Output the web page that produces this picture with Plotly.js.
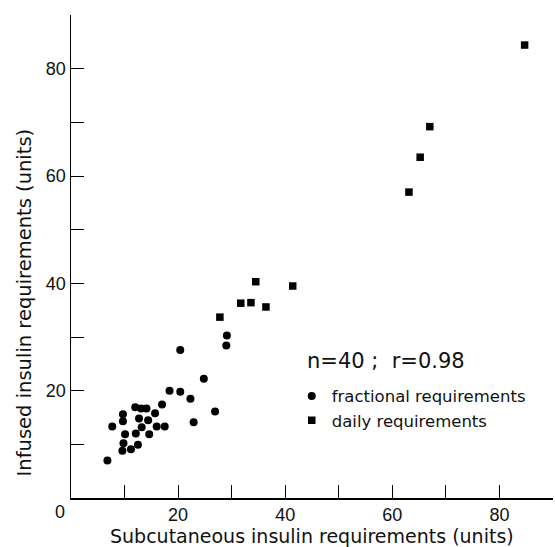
<!DOCTYPE html>
<html>
<head>
<meta charset="utf-8">
<script src="https://cdn.plot.ly/plotly-3.0.1.min.js"></script>
<style>html,body{margin:0;padding:0;background:#fff;}#chart{width:555px;height:547px;}</style>
</head>
<body>
<div id="chart"></div>
<script>
// Fractional requirements (circles)
var fracX = [6.8, 7.7, 9.7, 9.7, 10.1, 9.8, 9.6, 11.2, 12.5, 12.1, 13.2, 12.7, 12.0, 13.1, 14.1, 14.4, 14.6, 15.7, 16.0, 17.5, 17.0, 18.4, 20.4, 20.4, 22.3, 22.9, 24.8, 26.9, 29.1, 29.0];
var fracY = [7.0, 13.3, 15.6, 14.3, 11.9, 10.2, 8.8, 9.1, 9.9, 12.0, 13.2, 14.8, 16.9, 16.7, 16.7, 14.5, 11.9, 15.8, 13.3, 13.3, 17.4, 20.0, 19.8, 27.6, 18.5, 14.1, 22.2, 16.1, 30.3, 28.4];
// Daily requirements (squares)
var dailyX = [27.8, 31.7, 33.6, 34.5, 36.4, 41.4, 63.1, 65.2, 67.0, 84.7];
var dailyY = [33.7, 36.3, 36.4, 40.3, 35.6, 39.5, 57.0, 63.5, 69.2, 84.4];
// Axis ticks
var tickVals = [10, 20, 30, 40, 50, 60, 70, 80, 90];
var tickText = ['', '20', '', '40', '', '60', '', '80', ''];
var statsText = 'n=40 ;  r=0.98';
var fracName = 'fractional requirements';
var dailyName = 'daily requirements';
var xTitle = 'Subcutaneous insulin requirements (units)';
var yTitle = 'Infused insulin requirements (units)';

var FONT = 'Liberation Sans, DejaVu Sans, sans-serif';
var FONT2 = 'DejaVu Sans, sans-serif';

var traces = [
  {x: fracX, y: fracY, mode: 'markers', type: 'scatter', name: fracName, legendgroup: 'a',
   marker: {symbol: 'circle', size: 8, color: '#000'}},
  {x: dailyX, y: dailyY, mode: 'markers', type: 'scatter', name: dailyName, legendgroup: 'b',
   marker: {symbol: 'square', size: 7.5, color: '#000'}}
];

var axisCommon = {
  range: [0, 90], showgrid: false, zeroline: false, showline: true,
  linecolor: '#000', linewidth: 1.5, ticks: 'inside', ticklen: 13, tickwidth: 1,
  tickcolor: '#000', tickmode: 'array', tickvals: tickVals, ticktext: tickText,
  tickfont: {family: FONT, size: 18, color: '#111'}
};

var layout = {
  width: 555, height: 547,
  margin: {l: 71, r: 2, t: 15, b: 49},
  paper_bgcolor: '#fff', plot_bgcolor: '#fff',
  showlegend: true,
  legend: {x: 0.458, y: 0.247, xanchor: 'left', yanchor: 'top', bgcolor: 'rgba(0,0,0,0)',
    font: {family: FONT2, size: 16.5, color: '#111'}, tracegroupgap: 0, traceorder: 'grouped'},
  xaxis: Object.assign({}, axisCommon),
  yaxis: Object.assign({}, axisCommon),
  annotations: [
    {text: statsText, xref: 'x', yref: 'y', x: 43.6, y: 25.5, showarrow: false,
     xanchor: 'left', font: {family: FONT2, size: 21, color: '#111'}},
    {text: '0', xref: 'paper', yref: 'paper', x: -0.023, y: -0.028, showarrow: false,
     xanchor: 'center', yanchor: 'middle', font: {family: FONT, size: 18, color: '#111'}},
    {text: xTitle, xref: 'paper', yref: 'paper', x: 0.5, y: -0.0785, showarrow: false,
     xanchor: 'center', yanchor: 'middle', font: {family: FONT2, size: 19, color: '#111'}},
    {text: yTitle, xref: 'paper', yref: 'paper', x: -0.0975, y: 0.405, textangle: -90,
     showarrow: false, xanchor: 'center', yanchor: 'middle',
     font: {family: FONT2, size: 19.5, color: '#111'}}
  ]
};

Plotly.newPlot('chart', traces, layout, {displayModeBar: false, staticPlot: true});
</script>
</body>
</html>
